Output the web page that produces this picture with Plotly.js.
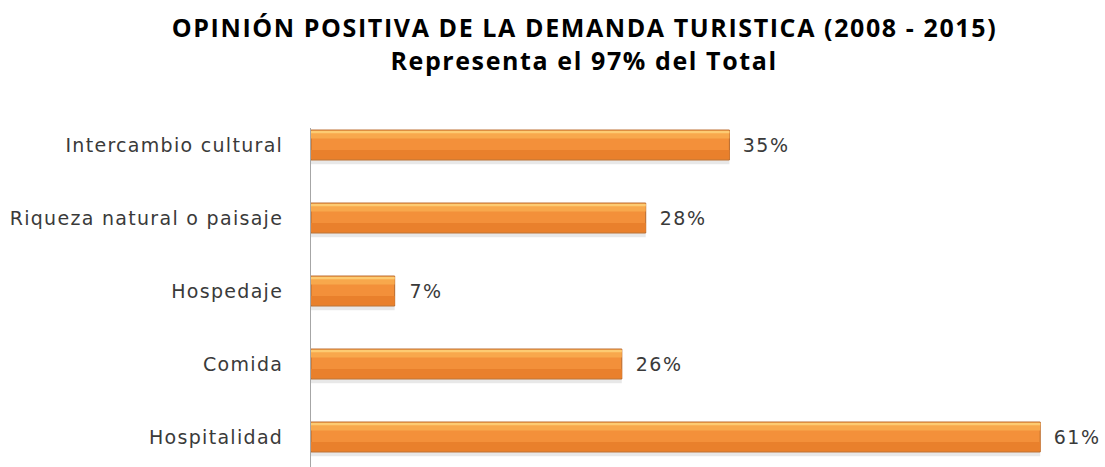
<!DOCTYPE html>
<html><head><meta charset="utf-8">
<script src="https://cdn.plot.ly/plotly-3.0.1.min.js"></script>
<style>
html,body{margin:0;padding:0;background:#fff}
#chart{width:1105px;height:467px}
#chart .ytick text{letter-spacing:1.3px}
#chart .annotation text{letter-spacing:1.5px}
#chart .annotation[data-index="5"] text,#chart .annotation[data-index="6"] text{letter-spacing:1.6px}
</style>
</head><body><div id="chart"></div>
<script>
const categories = ["Hospitalidad", "Comida", "Hospedaje", "Riqueza natural o paisaje", "Intercambio cultural"];
const values = [61, 26, 7, 28, 35];
const valueLabels = ["61%", "26%", "7%", "28%", "35%"];
const titleLine1 = "OPINIÓN POSITIVA DE LA DEMANDA TURISTICA (2008 - 2015)";
const titleLine2 = "Representa el 97% del Total";

const W = 0.41;
const base = {
  type: 'bar', orientation: 'h', y: categories, x: values,
  hoverinfo: 'skip', showlegend: false
};
const traces = [
  Object.assign({}, base, {width: W, offset: -W/2 - 0.06, marker: {color: 'rgba(0,0,0,0.09)', line: {width: 0}}}),
  Object.assign({}, base, {width: W, marker: {color: '#F3903A', line: {color: '#B8682A', width: 1}}}),
  Object.assign({}, base, {width: W*0.30, offset: -W/2 + 0.012, marker: {color: '#E9802C', line: {width: 0}}}),
  Object.assign({}, base, {width: W*0.25, offset: W/2 - W*0.25 - 0.012, marker: {color: '#F8A84C', line: {width: 0}}}),
  Object.assign({}, base, {width: W*0.08, offset: W/2 - W*0.08 - 0.01, marker: {color: '#FDCB72', line: {width: 0}}})
];

const labelFont = {family: 'DejaVu Sans, Verdana, sans-serif', size: 19, color: '#3A3A3A'};
const annotations = values.map((v, i) => ({
  x: v, y: categories[i], xref: 'x', yref: 'y', text: valueLabels[i], showarrow: false,
  xanchor: 'left', yanchor: 'middle', xshift: 14, font: labelFont
}));
const titleFont = {family: 'Open Sans, sans-serif', size: 25, color: '#000'};
annotations.push(
  {text: '<b>' + titleLine1 + '</b>', xref: 'paper', yref: 'paper', x: (584-311)/789, y: 1, yshift: 101, xanchor: 'center', yanchor: 'middle', showarrow: false, font: titleFont},
  {text: '<b>' + titleLine2 + '</b>', xref: 'paper', yref: 'paper', x: (584-311)/789, y: 1, yshift: 68, xanchor: 'center', yanchor: 'middle', showarrow: false, font: titleFont}
);

const layout = {
  width: 1105, height: 467,
  margin: {l: 311, r: 5, t: 128, b: 0, pad: 0},
  paper_bgcolor: '#fff', plot_bgcolor: '#fff',
  barmode: 'overlay',
  font: labelFont,
  xaxis: {range: [0, 66], visible: false, showgrid: false, zeroline: false, fixedrange: true},
  yaxis: {type: 'category', categoryorder: 'array', categoryarray: categories,
    range: [-0.411, 4.233], showline: true, linecolor: '#A6A6A6', linewidth: 1,
    ticks: '', showgrid: false, zeroline: false,
    tickfont: labelFont, ticklabelstandoff: 23},
  annotations: annotations
};
Plotly.newPlot('chart', traces, layout, {displayModeBar: false, staticPlot: true});
</script></body></html>
